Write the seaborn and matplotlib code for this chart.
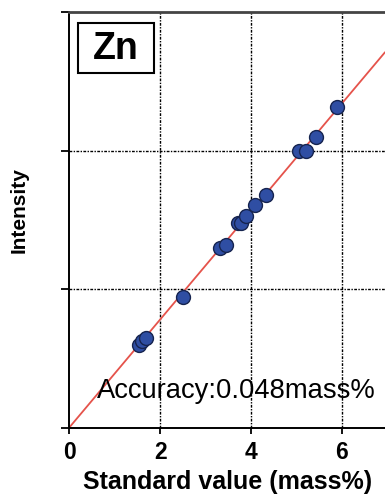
import numpy as np
import pandas as pd
import matplotlib
matplotlib.use("Agg")
import matplotlib.pyplot as plt
from matplotlib.patches import Rectangle
import seaborn as sns

# ---- data ----
standard_value = [1.53, 1.59, 1.69, 2.51, 3.31, 3.44, 3.71, 3.77, 3.88, 4.08, 4.32, 5.06, 5.22, 5.44, 5.90]
intensity = [0.596, 0.627, 0.648, 0.94, 1.294, 1.318, 1.474, 1.479, 1.527, 1.606, 1.679, 2.00, 2.00, 2.10, 2.316]
x_ticks = [0, 2, 4, 6]
y_ticks = [0, 1, 2, 3]
element = "Zn"
accuracy_text = "Accuracy:0.048mass%"
x_label = "Standard value (mass%)"
y_label = "Intensity"

df = pd.DataFrame({"std": standard_value, "int": intensity})

sns.set_theme(style="white")
plt.rcParams["font.family"] = ["Liberation Sans", "DejaVu Sans"]
plt.rcParams["text.color"] = "black"
plt.rcParams["axes.labelcolor"] = "black"
plt.rcParams["xtick.color"] = "black"
plt.rcParams["ytick.color"] = "black"

fig = plt.figure(figsize=(3.85, 5.0), dpi=100)
ax = fig.add_axes([0.18, 0.145, 0.82, 0.831])

# grid
for xv in x_ticks[1:]:
    ax.axvline(xv, color="black", lw=1.0, ls=(0, (2, 1, 1, 1)), zorder=1)
for yv in y_ticks[1:-1]:
    ax.axhline(yv, color="black", lw=1.0, ls=(0, (2, 1, 1, 1)), zorder=1)

# calibration line (least squares through origin)
x_arr = np.asarray(standard_value)
y_arr = np.asarray(intensity)
slope = float((x_arr * y_arr).sum() / (x_arr * x_arr).sum())
ax.axline((0, 0), slope=slope, color="#e5534b", lw=1.3, zorder=2)

sns.scatterplot(data=df, x="std", y="int", ax=ax, s=100, color="#2f4ea3",
                edgecolor="#16244f", linewidth=1.0, zorder=3, legend=False)

ax.set_xlim(0, 6.95)
ax.set_ylim(0, 3)
ax.set_xticks(x_ticks)
ax.set_xticklabels([str(t) for t in x_ticks], fontsize=16.5, fontweight="bold", color="black")
ax.set_yticks(y_ticks)
ax.set_yticklabels([])
ax.tick_params(axis="x", direction="out", length=4, width=1.3, pad=6, colors="black")
ax.tick_params(axis="y", direction="out", length=5.5, width=1.3, colors="black")
ax.xaxis.set_ticks_position("bottom")
ax.yaxis.set_ticks_position("left")

ax.set_xlabel(x_label, fontsize=18, fontweight="bold", labelpad=4, color="black")
ax.set_ylabel(y_label, fontsize=15, fontweight="bold", color="black")
ax.yaxis.set_label_coords(-0.130, 0.523)

for side in ["left", "bottom"]:
    ax.spines[side].set_color("black")
    ax.spines[side].set_linewidth(1.4)
ax.spines["top"].set_color("#444444")
ax.spines["top"].set_linewidth(2.0)
ax.spines["right"].set_visible(False)

ax.add_patch(Rectangle((0.027, 0.8525), 0.2417, 0.1218, transform=ax.transAxes,
                       fc="white", ec="black", lw=1.5, zorder=5))
ax.text(0.147, 0.911, element, transform=ax.transAxes, fontsize=27, fontweight="bold",
        ha="center", va="center", color="black", zorder=6)
ax.text(0.087, 0.072, accuracy_text, transform=ax.transAxes, fontsize=19.7,
        ha="left", va="baseline", color="black", zorder=4)

fig.savefig("out.png", dpi=100)
